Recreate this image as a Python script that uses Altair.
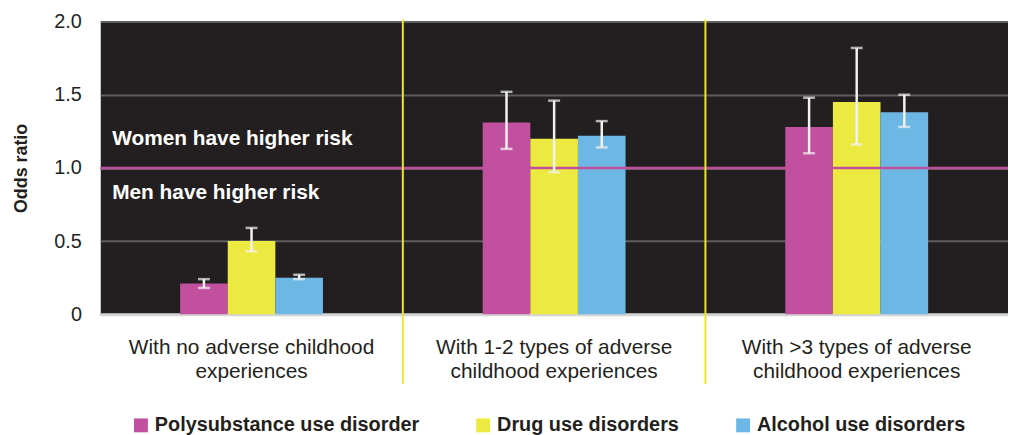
import altair as alt
import pandas as pd

groups = ["With no adverse childhood\nexperiences",
          "With 1-2 types of adverse\nchildhood experiences",
          "With >3 types of adverse\nchildhood experiences"]
series = ["Polysubstance use disorder", "Drug use disorders", "Alcohol use disorders"]
colors = ["#c1519f", "#ecea41", "#6db7e4"]

poly_or = [0.21, 1.31, 1.28]
poly_lo = [0.18, 1.13, 1.10]
poly_hi = [0.24, 1.52, 1.48]
drug_or = [0.50, 1.20, 1.45]
drug_lo = [0.43, 0.97, 1.16]
drug_hi = [0.59, 1.46, 1.82]
alc_or = [0.25, 1.22, 1.38]
alc_lo = [0.24, 1.14, 1.28]
alc_hi = [0.27, 1.32, 1.50]

y_ticks = [0, 0.5, 1.0, 1.5, 2.0]
reference = [1.0]
annotations = ["Women have higher risk", "Men have higher risk"]
annotation_y = [1.2, 0.83]

rows = []
for s, (vals, los, his) in zip(series, [(poly_or, poly_lo, poly_hi),
                                        (drug_or, drug_lo, drug_hi),
                                        (alc_or, alc_lo, alc_hi)]):
    for g, v, lo, hi in zip(groups, vals, los, his):
        rows.append({"group": g, "series": s, "value": v, "lo": lo, "hi": hi})
df = pd.DataFrame(rows)
sep_df = pd.DataFrame({"group": groups[1:]})
ref_df = pd.DataFrame({"v": reference})
ann_df = pd.DataFrame({"t": annotations, "y": annotation_y})

FONT = "Liberation Sans"
DARK = "#231f20"

xscale = alt.Scale(domain=groups, paddingInner=0, paddingOuter=0)
x_axis = alt.Axis(labelExpr="split(datum.label, '\\n')", labelAngle=0,
                  labelFontSize=21, labelColor=DARK, labelFont=FONT,
                  labelPadding=23, labelLineHeight=24, ticks=False,
                  domainColor="#d4d4d4", domainWidth=3, labelLimit=0)
x_main = alt.X("group:N", scale=xscale, title=None, axis=x_axis)
xoff = alt.XOffset("series:N", sort=series,
                   scale=alt.Scale(domain=series, paddingInner=0, paddingOuter=0,
                                   range=[80.5, 224.5]))
yscale = alt.Scale(domain=[0, 2])
y_axis = alt.Axis(values=y_ticks,
                  labelExpr="datum.value == 0 ? '0' : format(datum.value, '.1f')",
                  labelFontSize=20, labelColor=DARK, labelFont=FONT,
                  labelPadding=19, ticks=False, domain=False,
                  grid=True, gridColor="#5e5e5e", gridWidth=2,
                  titleFontSize=18, titleFont=FONT, titleFontWeight="bold",
                  titleColor=DARK, titlePadding=24)

bars = alt.Chart(df).mark_bar().encode(
    x=x_main, xOffset=xoff,
    y=alt.Y("value:Q", scale=yscale, title="Odds ratio", axis=y_axis),
    color=alt.Color("series:N", scale=alt.Scale(domain=series, range=colors),
                    legend=alt.Legend(orient="none", legendX=31, legendY=397,
                                      direction="horizontal", title=None,
                                      symbolType="square", symbolSize=196,
                                      symbolStrokeWidth=0, labelFontSize=20,
                                      labelFont=FONT, labelFontWeight="bold",
                                      labelColor=DARK, columnPadding=54,
                                      labelOffset=4, labelLimit=0)))

refline = alt.Chart(ref_df).mark_rule(color="#c0509e", strokeWidth=2.5).encode(
    y=alt.Y("v:Q", scale=yscale, title="Odds ratio", axis=y_axis))

ann = alt.Chart(ann_df).mark_text(align="left", baseline="middle", fontWeight="bold",
                                  fontSize=21, font=FONT, color="white").encode(
    x=alt.value(12), y=alt.Y("y:Q", scale=yscale, title="Odds ratio", axis=y_axis),
    text="t:N")

err_color = "#f2f2f2"
err = alt.Chart(df).mark_rule(color=err_color, strokeWidth=2.5).encode(
    x=x_main, xOffset=xoff,
    y=alt.Y("lo:Q", scale=yscale, title="Odds ratio", axis=y_axis), y2="hi:Q")
cap_lo = alt.Chart(df).mark_tick(color=err_color, thickness=2.5, size=12).encode(
    x=x_main, xOffset=xoff,
    y=alt.Y("lo:Q", scale=yscale, title="Odds ratio", axis=y_axis))
cap_hi = alt.Chart(df).mark_tick(color=err_color, thickness=2.5, size=12).encode(
    x=x_main, xOffset=xoff,
    y=alt.Y("hi:Q", scale=yscale, title="Odds ratio", axis=y_axis))

seps = alt.Chart(sep_df).mark_rule(color="#e8e62e", strokeWidth=2).encode(
    x=alt.X("group:N", scale=xscale, title=None, axis=x_axis, bandPosition=0),
    y=alt.value(-2), y2=alt.value(365))

chart = alt.layer(bars, refline, ann, err, cap_lo, cap_hi, seps).properties(
    width=915, height=295,
    autosize=alt.AutoSizeParams(type="none"),
    padding={"left": 93, "top": 12, "right": 0, "bottom": 120},
).configure_view(fill="#231f20", stroke="transparent")

chart.save("out.html", embed_options={"renderer": "svg", "actions": False})
